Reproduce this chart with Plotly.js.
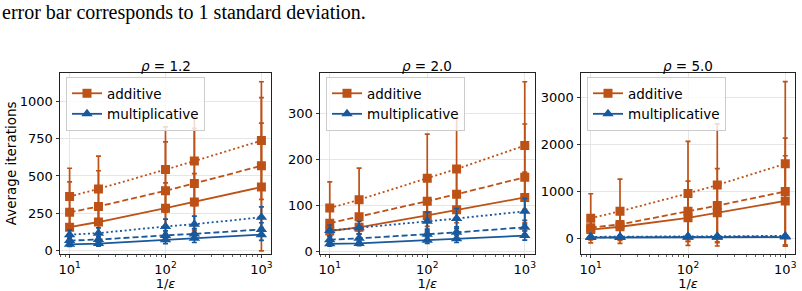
<!DOCTYPE html>
<html>
<head>
<meta charset="utf-8">
<script src="https://cdn.plot.ly/plotly-3.0.1.min.js"></script>
<style>
  html, body { margin: 0; padding: 0; background: #fff; }
  #chart { width: 802px; height: 291px; }
</style>
</head>
<body>
<div id="chart"></div>
<script>
// x positions shared by all panels: 1/epsilon
const invEps = [10, 20, 100, 200, 1000];
const rhoLabels = ['1.2', '2.0', '5.0'];
const methodNames = ['additive', 'multiplicative'];

// Mean iterations, rows = solid / dashed / dotted series
const addMeanRho12 = [[155, 190, 283, 325, 425], [255, 295, 400, 450, 568], [362, 413, 543, 600, 738]];
const addSdRho12   = [[95, 115, 170, 190, 430], [205, 240, 330, 370, 459], [190, 220, 287, 300, 396]];
const mulMeanRho12 = [[40, 45, 70, 80, 105], [65, 72, 100, 110, 140], [105, 115, 160, 175, 222]];
const mulSdRho12   = [[15, 18, 25, 28, 38], [20, 22, 30, 35, 45], [30, 35, 50, 55, 70]];

const addMeanRho20 = [[45, 53, 79, 91, 118], [62, 76, 110, 125, 162], [95, 113, 160, 180, 231]];
const addSdRho20   = [[20, 24, 36, 40, 55], [30, 37, 55, 62, 116], [57, 69, 96, 111, 139]];
const mulMeanRho20 = [[17, 18, 25, 28, 35], [26, 29, 38, 42, 53], [46, 52, 66, 72, 88]];
const mulSdRho20   = [[5, 5, 7, 8, 10], [8, 9, 11, 12, 15], [12, 14, 20, 22, 28]];

const addMeanRho50 = [[180, 240, 430, 540, 790], [220, 290, 570, 690, 990], [420, 570, 950, 1130, 1580]];
const addSdRho50   = [[200, 270, 500, 620, 962], [260, 340, 640, 790, 1138], [523, 685, 1107, 1300, 1753]];
const mulMeanRho50 = [[10, 11, 14, 16, 20], [14, 16, 22, 24, 30], [25, 28, 35, 38, 45]];
const mulSdRho50   = [[6, 6, 8, 9, 11], [8, 9, 11, 12, 14], [12, 14, 16, 18, 20]];

const yTickVals = [[0, 250, 500, 750, 1000], [0, 100, 200, 300], [0, 1000, 2000, 3000]];
const yRanges = [[-22, 1193], [-4, 389], [-330, 3515]];

const panels = [
  { add: [addMeanRho12, addSdRho12], mul: [mulMeanRho12, mulSdRho12] },
  { add: [addMeanRho20, addSdRho20], mul: [mulMeanRho20, mulSdRho20] },
  { add: [addMeanRho50, addSdRho50], mul: [mulMeanRho50, mulSdRho50] }
];

const ORANGE = '#bd5116';
const BLUE = '#18589c';
const dashes = ['solid', '6px,3px', '2px,2.6px'];

const W = 802, H = 291;
const xDomPx = [[60, 271], [320, 534.5], [581, 795]];
const yTopPx = 73, yBotPx = 253.5;

const traces = [];
panels.forEach((p, i) => {
  const ax = i === 0 ? '' : String(i + 1);
  [['add', ORANGE, 'square', 9], ['mul', BLUE, 'triangle-up', 10]].forEach(([key, color, symbol, msize], m) => {
    const [means, sds] = p[key];
    means.forEach((ys, k) => {
      traces.push({
        type: 'scatter',
        mode: 'lines+markers',
        x: invEps,
        y: ys,
        error_y: { type: 'data', array: sds[k], visible: true, color: color, thickness: 1.7, width: 2.5 },
        line: { color: color, width: 1.8, dash: dashes[k] },
        marker: { symbol: symbol, size: msize, color: color },
        xaxis: 'x' + ax,
        yaxis: 'y' + ax,
        name: methodNames[m],
        legend: 'legend' + ax,
        legendgroup: 'g' + i + key,
        showlegend: k === 0
      });
    });
  });
});

const minorVals = [];
[10, 100].forEach(d => { for (let j = 2; j <= 9; j++) minorVals.push(d * j); });
for (let j = 2; j <= 9; j++) minorVals.push(j);

const tickFont = { family: 'DejaVu Sans', size: 13, color: '#000' };

const layout = {
  width: W, height: H,
  margin: { l: 0, r: 0, t: 0, b: 0 },
  paper_bgcolor: '#fff', plot_bgcolor: '#fff',
  font: { family: 'DejaVu Sans', size: 13, color: '#000' },
  showlegend: true,
  annotations: [],
  hovermode: false
};

xDomPx.forEach((d, i) => {
  const ax = i === 0 ? '' : String(i + 1);
  layout['xaxis' + ax] = {
    type: 'log',
    domain: [d[0] / W, d[1] / W],
    anchor: 'y' + ax,
    range: [0.9, 3.1],
    tickmode: 'array',
    tickvals: [10, 100, 1000],
    ticktext: ['10<sup>1</sup>', '10<sup>2</sup>', '10<sup>3</sup>'],
    ticks: 'outside', ticklen: 3.5, tickwidth: 0.8, tickcolor: '#000',
    tickfont: tickFont,
    showline: true, linecolor: '#222', linewidth: 1, mirror: true,
    showgrid: true, gridcolor: '#e6e6e6', gridwidth: 1,
    zeroline: false,
    minor: { tickmode: 'array', tickvals: minorVals, ticks: 'outside', ticklen: 2, tickwidth: 0.6, tickcolor: '#000', showgrid: false },
    title: { text: '1/<i>ε</i>', font: { family: 'DejaVu Sans', size: 13, color: '#000' }, standoff: 1 }
  };
  layout['yaxis' + ax] = {
    domain: [1 - yBotPx / H, 1 - yTopPx / H],
    anchor: 'x' + ax,
    range: yRanges[i],
    tickmode: 'array',
    tickvals: yTickVals[i],
    ticks: 'outside', ticklen: 3.5, tickwidth: 0.8, tickcolor: '#000',
    tickfont: tickFont,
    showline: true, linecolor: '#222', linewidth: 1, mirror: true,
    showgrid: true, gridcolor: '#e6e6e6', gridwidth: 1,
    zeroline: false
  };
  layout['legend' + ax] = {
    x: (d[0] + 6) / W, y: 1 - 77 / H,
    xanchor: 'left', yanchor: 'top',
    xref: 'paper', yref: 'paper',
    bgcolor: 'rgba(255,255,255,0.8)',
    bordercolor: '#cccccc', borderwidth: 1,
    font: { family: 'DejaVu Sans', size: 13.5, color: '#000' },
    itemwidth: 30,
    tracegroupgap: 0
  };
  layout.annotations.push({
    xref: 'paper', yref: 'paper',
    x: (d[0] + d[1]) / 2 / W, y: 1 - 66.5 / H,
    xanchor: 'center', yanchor: 'middle',
    text: '<i>ρ</i> = ' + rhoLabels[i],
    showarrow: false,
    font: { family: 'DejaVu Sans', size: 13.5, color: '#000' }
  });
});

// y-axis label of the first panel, placed beside its tick labels
layout.annotations.push({
  xref: 'paper', yref: 'paper',
  x: 11 / W, y: 1 - (yTopPx + yBotPx) / 2 / H,
  xanchor: 'center', yanchor: 'middle',
  textangle: -90,
  text: 'Average iterations',
  showarrow: false,
  font: { family: 'DejaVu Sans', size: 13.5, color: '#000' }
});

layout.annotations.push({
  xref: 'paper', yref: 'paper',
  x: 0, y: 1 - 12.5 / H,
  xanchor: 'left', yanchor: 'middle',
  text: 'error bar corresponds to 1 standard deviation.',
  showarrow: false,
  font: { family: 'Liberation Serif', size: 20, color: '#000' }
});

Plotly.newPlot('chart', traces, layout, { staticPlot: true, displayModeBar: false });
</script>
</body>
</html>
